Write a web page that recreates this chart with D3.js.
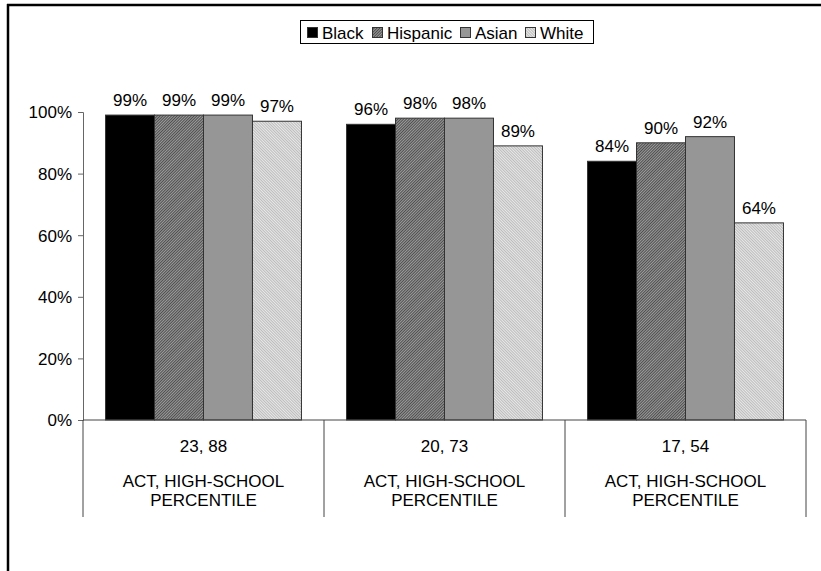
<!DOCTYPE html>
<html>
<head>
<meta charset="utf-8">
<script src="https://cdn.jsdelivr.net/npm/d3@7"></script>
<style>
  html, body { margin: 0; padding: 0; background: #fff; }
  svg { display: block; }
  text { font-family: "Liberation Sans", Arial, sans-serif; fill: #000; }
</style>
</head>
<body>
<svg id="chart" width="821" height="571"></svg>
<script>
// Score bands (ACT, high-school percentile)
const categories = ["23, 88", "20, 73", "17, 54"];
const categorySub = ["ACT, HIGH-SCHOOL", "PERCENTILE"];
const seriesNames = ["Black", "Hispanic", "Asian", "White"];
// Percent values per series, in category order
const black    = [99, 96, 84];
const hispanic = [99, 98, 90];
const asian    = [99, 98, 92];
const white    = [97, 89, 64];
const yTicks = [0, 20, 40, 60, 80, 100];

const seriesValues = [black, hispanic, asian, white];
const FS = "17px";

const svg = d3.select("#chart");
const defs = svg.append("defs");

// fine hatch fills for the grey series
const pHisp = defs.append("pattern").attr("id", "pHisp")
  .attr("width", 2).attr("height", 2).attr("patternUnits", "userSpaceOnUse")
  .attr("patternTransform", "rotate(45)");
pHisp.append("rect").attr("width", 2).attr("height", 2).attr("fill", "#9c9c9c");
pHisp.append("rect").attr("width", 1).attr("height", 2).attr("fill", "#4e4e4e");

const pWhite = defs.append("pattern").attr("id", "pWhite")
  .attr("width", 2).attr("height", 2).attr("patternUnits", "userSpaceOnUse")
  .attr("patternTransform", "rotate(-45)");
pWhite.append("rect").attr("width", 2).attr("height", 2).attr("fill", "#e8e8e8");
pWhite.append("rect").attr("width", 1).attr("height", 2).attr("fill", "#bcbcbc");

const fills = ["#000000", "url(#pHisp)", "#969696", "url(#pWhite)"];

// outer frame (left and top edges)
svg.append("line").attr("x1", 8).attr("x2", 8).attr("y1", 4).attr("y2", 571)
  .attr("stroke", "#000").attr("stroke-width", 2.5);
svg.append("line").attr("x1", 7).attr("x2", 821).attr("y1", 5).attr("y2", 5)
  .attr("stroke", "#000").attr("stroke-width", 2.5);

const plotLeft = 83, plotRight = 806, plotTop = 112, plotBottom = 420;

const x0 = d3.scaleBand().domain(categories).range([plotLeft, plotRight]).paddingInner(0).paddingOuter(0);
const x1 = d3.scaleBand().domain(seriesNames).range([0, x0.bandwidth()]).paddingInner(0).paddingOuter(0.46);
const y = d3.scaleLinear().domain([0, 100]).range([plotBottom, plotTop]);

// y axis
const yAxis = d3.axisLeft(y).tickValues(yTicks).tickSize(5).tickFormat(d => d + "%");
const gy = svg.append("g").attr("transform", `translate(${plotLeft},0)`).call(yAxis);
gy.select(".domain").attr("stroke", "#666");
gy.selectAll(".tick line").attr("stroke", "#666");
gy.selectAll(".tick text").attr("x", -11).attr("dy", "0.35em")
  .style("font-size", FS).style("font-family", "Liberation Sans, Arial, sans-serif").attr("fill", "#000");

// bars
const groups = svg.append("g").selectAll("g").data(categories).join("g")
  .attr("transform", d => `translate(${x0(d)},0)`);

groups.each(function(cat, ci) {
  const g = d3.select(this);
  seriesNames.forEach((s, si) => {
    const v = seriesValues[si][ci];
    g.append("rect")
      .attr("x", x1(s)).attr("width", x1.bandwidth())
      .attr("y", y(v)).attr("height", y(0) - y(v))
      .attr("fill", fills[si]).attr("stroke", "#333").attr("stroke-width", 1);
    g.append("text")
      .attr("x", x1(s) + x1.bandwidth() / 2).attr("y", y(v) - 9)
      .attr("text-anchor", "middle").style("font-size", FS)
      .text(v + "%");
  });
});

// category axis with separators
const xg = svg.append("g");
xg.append("line").attr("x1", plotLeft).attr("x2", plotRight).attr("y1", plotBottom).attr("y2", plotBottom)
  .attr("stroke", "#444");
const bounds = categories.map(c => x0(c)).concat([plotRight]);
xg.selectAll("line.sep").data(bounds).join("line").attr("class", "sep")
  .attr("x1", d => d).attr("x2", d => d).attr("y1", plotBottom).attr("y2", 517)
  .attr("stroke", "#444");
categories.forEach(c => {
  const cx = x0(c) + x0.bandwidth() / 2;
  xg.append("text").attr("x", cx).attr("y", 452).attr("text-anchor", "middle")
    .style("font-size", FS).text(c);
  categorySub.forEach((t, i) => {
    xg.append("text").attr("x", cx).attr("y", 487 + i * 19).attr("text-anchor", "middle")
      .style("font-size", FS).text(t);
  });
});

// legend
const lg = svg.append("g");
lg.append("rect").attr("x", 300.5).attr("y", 20.5).attr("width", 293).attr("height", 23)
  .attr("fill", "#fff").attr("stroke", "#000").attr("stroke-width", 1);
const legendX = [307, 372, 460, 525];
seriesNames.forEach((s, i) => {
  lg.append("rect").attr("x", legendX[i] + 0.5).attr("y", 27.5).attr("width", 10).attr("height", 10)
    .attr("fill", fills[i]).attr("stroke", "#333");
  lg.append("text").attr("x", legendX[i] + 15).attr("y", 38.5).style("font-size", FS).text(s);
});
</script>
</body>
</html>
